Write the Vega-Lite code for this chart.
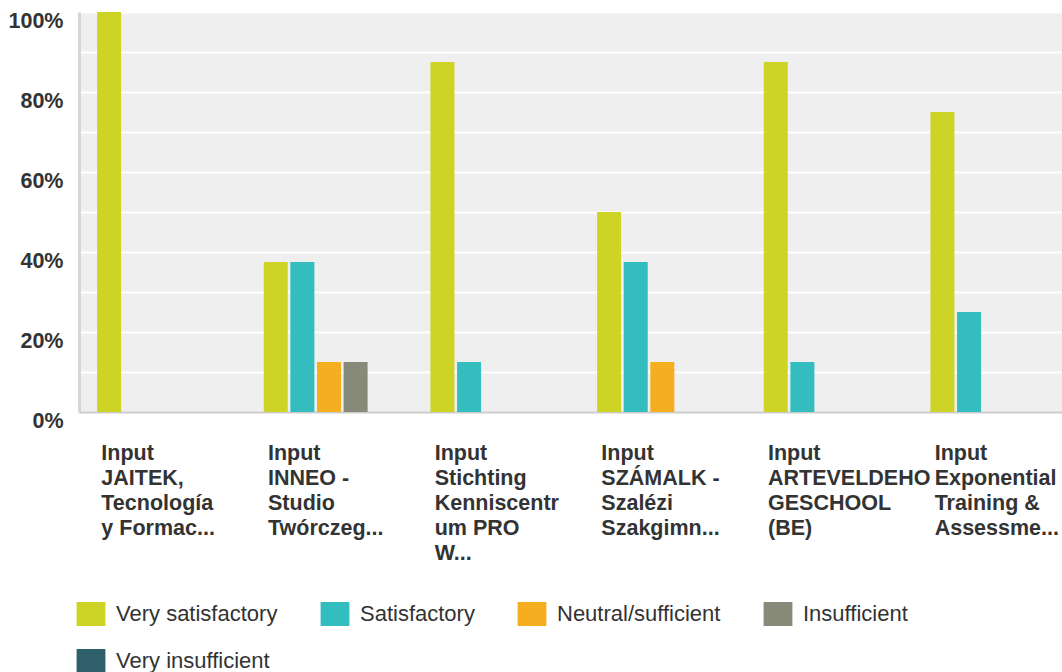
{
  "$schema": "https://vega.github.io/schema/vega-lite/v6.json",
  "autosize": {"type": "none"},
  "padding": {"left": 79, "top": 12, "right": 0, "bottom": 260},
  "width": 983,
  "height": 400,
  "background": "white",
  "config": {
    "view": {"fill": "#efefef", "stroke": null},
    "font": "Liberation Sans"
  },
  "data": {
    "values": [
      {"group": "Input|JAITEK,|Tecnología|y Formac...", "series": "Very satisfactory", "pct": 100},
      {"group": "Input|INNEO -|Studio|Twórczeg...", "series": "Very satisfactory", "pct": 37.5},
      {"group": "Input|INNEO -|Studio|Twórczeg...", "series": "Satisfactory", "pct": 37.5},
      {"group": "Input|INNEO -|Studio|Twórczeg...", "series": "Neutral/sufficient", "pct": 12.5},
      {"group": "Input|INNEO -|Studio|Twórczeg...", "series": "Insufficient", "pct": 12.5},
      {"group": "Input|Stichting|Kenniscentr|um PRO|W...", "series": "Very satisfactory", "pct": 87.5},
      {"group": "Input|Stichting|Kenniscentr|um PRO|W...", "series": "Satisfactory", "pct": 12.5},
      {"group": "Input|SZÁMALK -|Szalézi|Szakgimn...", "series": "Very satisfactory", "pct": 50},
      {"group": "Input|SZÁMALK -|Szalézi|Szakgimn...", "series": "Satisfactory", "pct": 37.5},
      {"group": "Input|SZÁMALK -|Szalézi|Szakgimn...", "series": "Neutral/sufficient", "pct": 12.5},
      {"group": "Input|ARTEVELDEHO|GESCHOOL|(BE)", "series": "Very satisfactory", "pct": 87.5},
      {"group": "Input|ARTEVELDEHO|GESCHOOL|(BE)", "series": "Satisfactory", "pct": 12.5},
      {"group": "Input|Exponential|Training &|Assessme...", "series": "Very satisfactory", "pct": 75},
      {"group": "Input|Exponential|Training &|Assessme...", "series": "Satisfactory", "pct": 25}
    ]
  },
  "mark": {"type": "bar"},
  "encoding": {
    "x": {
      "field": "group",
      "type": "nominal",
      "sort": null,
      "scale": {"range": [0, 1000], "paddingInner": 0, "paddingOuter": 0},
      "axis": {
        "title": null,
        "ticks": false,
        "labelAngle": 0,
        "labelAlign": "left",
        "labelBaseline": "top",
        "labelOffset": -61,
        "labelPadding": 30,
        "labelFont": "Liberation Sans",
        "labelFontSize": 21.5,
        "labelFontWeight": "bold",
        "labelColor": "#333333",
        "labelLineHeight": 25,
        "labelLimit": 400,
        "labelOverlap": false,
        "labelBound": false,
        "labelExpr": "split(datum.label, '|')",
        "domainColor": "#cccccc",
        "domainWidth": 2,
        "grid": false
      }
    },
    "xOffset": {
      "field": "series",
      "type": "nominal",
      "scale": {
        "domain": ["Very satisfactory", "Satisfactory", "Neutral/sufficient", "Insufficient", "Very insufficient"],
        "paddingInner": 0.098,
        "paddingOuter": 0.68
      }
    },
    "y": {
      "field": "pct",
      "type": "quantitative",
      "scale": {"domain": [0, 100], "nice": false},
      "axis": {
        "title": null,
        "values": [0, 10, 20, 30, 40, 50, 60, 70, 80, 90, 100],
        "labelExpr": "datum.value % 20 == 0 ? datum.value + '%' : ''",
        "ticks": false,
        "labelFont": "Liberation Sans",
        "labelFontSize": 21.5,
        "labelFontWeight": "bold",
        "labelColor": "#333333",
        "labelPadding": 16,
        "labelBaseline": "middle",
        "labelOffset": 9,
        "labelBound": false,
        "labelOverlap": false,
        "domainColor": "#d6d6d6",
        "domainWidth": 3,
        "gridColor": "#ffffff",
        "gridWidth": 2,
        "gridOpacity": 1
      }
    },
    "color": {
      "field": "series",
      "type": "nominal",
      "scale": {
        "domain": ["Very satisfactory", "Satisfactory", "Neutral/sufficient", "Insufficient", "Very insufficient"],
        "range": ["#cdd425", "#33bdbe", "#f6ae21", "#888a79", "#2e5f6a"]
      },
      "legend": {
        "title": null,
        "orient": "none",
        "legendX": 0,
        "legendY": 590,
        "direction": "horizontal",
        "columns": 4,
        "padding": 0,
        "symbolType": "M-1.2,-1H1.2V1H-1.2Z",
        "symbolSize": 576,
        "symbolStrokeWidth": 0,
        "symbolOpacity": 1,
        "labelFont": "Liberation Sans",
        "labelFontSize": 22,
        "labelColor": "#333333",
        "labelOffset": 13,
        "labelLimit": 400,
        "columnPadding": 42,
        "rowPadding": 23
      }
    }
  }
}
